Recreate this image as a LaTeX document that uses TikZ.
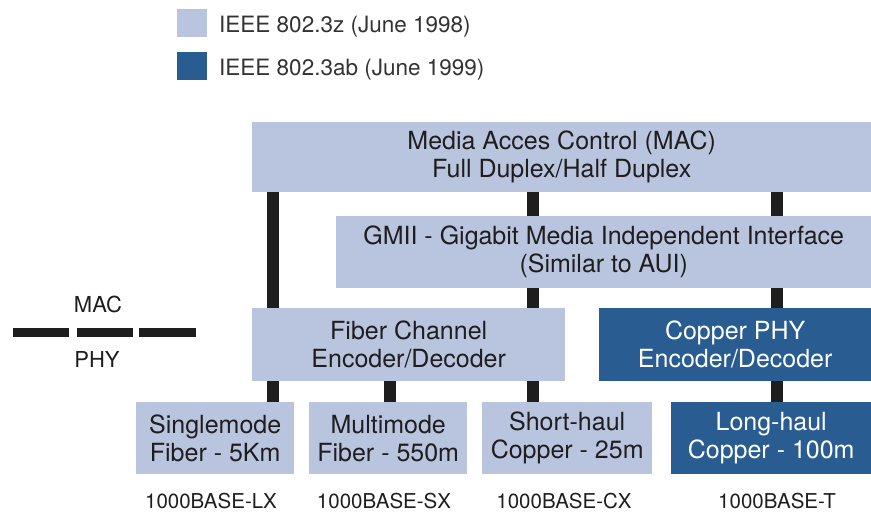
\documentclass[tikz,border=0pt]{standalone}
\usepackage{fontspec}
\setmainfont{TeX Gyre Heros}
\definecolor{lightblue}{RGB}{185,196,222}
\definecolor{darkblue}{RGB}{41,93,145}
\definecolor{ink}{RGB}{30,30,30}
\definecolor{legendink}{RGB}{51,51,51}
\tikzset{
  layer/.style={fill=lightblue,text=ink,align=center,anchor=north west,inner sep=0pt,font=\fontsize{25}{28}\selectfont},
  phylayer/.style={layer,fill=darkblue,text=white},
  key/.style={anchor=north west,inner sep=0pt,minimum width=30pt,minimum height=28pt},
  keytext/.style={anchor=base west,inner sep=0pt,text=legendink,font=\fontsize{22.5}{26}\selectfont},
  stdname/.style={anchor=base,inner sep=0pt,text=ink,font=\fontsize{20.5}{24}\selectfont},
  side/.style={anchor=base,inner sep=0pt,text=ink,font=\fontsize{22}{26}\selectfont},
  bar/.style={line width=12pt,ink},
}
\begin{document}
\begin{tikzpicture}[x=1pt,y=-1pt]
\useasboundingbox (0,0) rectangle (871,512);
% legend
\node[key,fill=lightblue] (k1) at (177,9) {};
\node[keytext] (k1t) at (219,32) {IEEE 802.3z (June 1998)};
\node[key,fill=darkblue] (k2) at (177,52) {};
\node[keytext] (k2t) at (219,75) {IEEE 802.3ab (June 1999)};
% layers
\node[layer,minimum width=619pt,minimum height=70pt] (mac) at (252,122) {Media Acces Control (MAC)\\Full Duplex/Half Duplex};
\node[layer,minimum width=535pt,minimum height=72pt] (gmii) at (336,216) {GMII - Gigabit Media Independent Interface\\(Similar to AUI)};
\node[layer,minimum width=313pt,minimum height=73pt] (fc) at (252,308) {Fiber Channel\\Encoder/Decoder};
\node[phylayer,minimum width=272pt,minimum height=73pt] (cu) at (599,308) {Copper PHY\\Encoder/Decoder};
\node[layer,minimum width=158pt,minimum height=72pt] (lx) at (136,402) {Singlemode\\Fiber - 5Km};
\node[layer,minimum width=158pt,minimum height=72pt] (sx) at (309,402) {Multimode\\Fiber - 550m};
\node[layer,minimum width=170pt,minimum height=72pt] (cx) at (482,402) {Short-haul\\Copper - 25m};
\node[phylayer,minimum width=200pt,minimum height=72pt] (t) at (671,402) {Long-haul\\Copper - 100m};
% standard names
\node[stdname] (lxn) at (211,508) {1000BASE-LX};
\node[stdname] (sxn) at (384,508) {1000BASE-SX};
\node[stdname] (cxn) at (564,508) {1000BASE-CX};
\node[stdname] (tn) at (777,508) {1000BASE-T};
% MAC/PHY boundary
\node[side] (macl) at (98,312) {MAC};
\node[side] (phyl) at (97,367) {PHY};
\foreach \a/\b in {13/69,77/133,139/196}
  \draw[line width=9pt,ink] (\a,332.5) -- (\b,332.5);
% connections
\coordinate (xa) at (273,0);
\coordinate (xb) at (533,0);
\coordinate (xc) at (777,0);
\coordinate (xd) at (390,0);
\draw[bar] (xa |- mac.south) -- (xa |- fc.north);
\draw[bar] (xb |- mac.south) -- (xb |- gmii.north);
\draw[bar] (xc |- mac.south) -- (xc |- gmii.north);
\draw[bar] (xb |- gmii.south) -- (xb |- fc.north);
\draw[bar] (xc |- gmii.south) -- (xc |- cu.north);
\draw[bar] (xa |- fc.south) -- (xa |- lx.north);
\draw[bar] (xd |- fc.south) -- (xd |- sx.north);
\draw[bar] (xb |- fc.south) -- (xb |- cx.north);
\draw[bar] (xc |- cu.south) -- (xc |- t.north);
\end{tikzpicture}
\end{document}
